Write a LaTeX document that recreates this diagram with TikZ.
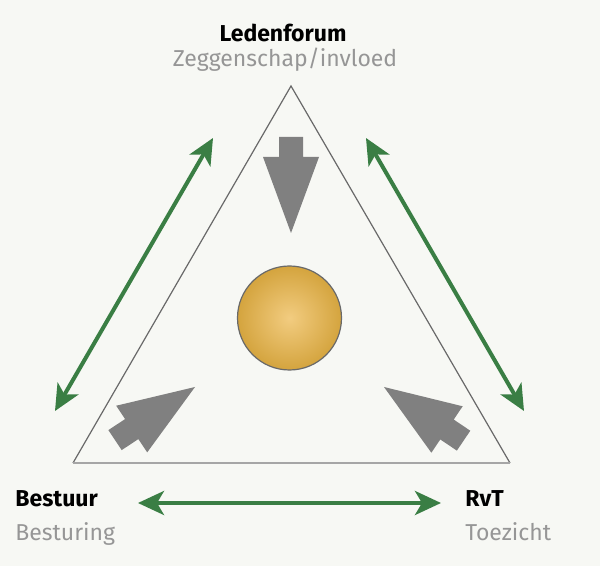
\documentclass[tikz,border=0pt]{standalone}
\usepackage{fontspec}
\setmainfont{Fira Sans}
\usetikzlibrary{arrows.meta}
\definecolor{bg}{RGB}{247,248,244}
\definecolor{arrgreen}{RGB}{58,126,68}
\definecolor{biggray}{RGB}{128,128,128}
\definecolor{subgray}{RGB}{150,150,150}
\definecolor{edgegray}{RGB}{105,105,105}
\definecolor{goldin}{RGB}{242,204,128}
\definecolor{goldout}{RGB}{212,164,62}
\tikzset{
  title/.style={font=\fontsize{11.5}{13}\selectfont\bfseries, text=black, inner sep=0pt},
  subtitle/.style={font=\fontsize{11.5}{13}\selectfont, text=subgray, inner sep=0pt},
  greenarrow/.style={draw=arrgreen, line width=2pt, {Stealth[length=13pt,width=12pt,inset=3.5pt]}-{Stealth[length=13pt,width=12pt,inset=3.5pt]}},
  bigarrow/.pic={\fill[biggray] (0,0) -- (-76,28) -- (-76,12) -- (-96,12) -- (-96,-12) -- (-76,-12) -- (-76,-28) -- cycle;}
}
\begin{document}
\begin{tikzpicture}[x=0.5pt,y=-0.5pt]
\fill[bg] (0,0) rectangle (600,566);
\useasboundingbox (0,0) rectangle (600,566);
% triangle
\coordinate (apex) at (291,86);
\coordinate (bl) at (73,463);
\coordinate (br) at (510,463);
\draw[edgegray, line width=0.6pt] (bl) -- (apex) -- (br);
\draw[black!35, line width=1pt] (bl) -- (br);
% central circle
\node[circle, minimum size=52pt, inner sep=0pt, draw=edgegray, line width=0.6pt, inner color=goldin, outer color=goldout] (core) at (289.5,318) {};
% big gray arrows
\pic at (291,233) [rotate=-90] {bigarrow};
\pic at (195,387) [rotate=33.6] {bigarrow};
\pic at (384,387) [rotate=146] {bigarrow};
% labels
\node[title, anchor=base] (led) at (283,42) {Ledenforum};
\node[subtitle, anchor=base] (ledsub) at (285,67) {Zeggenschap/invloed};
\node[title, anchor=base west] (best) at (15,507) {Bestuur};
\node[subtitle, anchor=base west] (bestsub) at (15,541) {Besturing};
\node[title, anchor=base west] (rvt) at (465,507) {RvT};
\node[subtitle, anchor=base west] (rvtsub) at (465,541) {Toezicht};
% green arrows
\coordinate (la) at (55,411);
\coordinate (lb) at (213,138);
\coordinate (ra) at (366,138);
\coordinate (rb) at (524,411);
\coordinate (ba) at (138,503);
\coordinate (bb) at (441,503);
\draw[greenarrow] (la) -- (lb);
\draw[greenarrow] (ra) -- (rb);
\draw[greenarrow] (ba) -- (bb);
\end{tikzpicture}
\end{document}
